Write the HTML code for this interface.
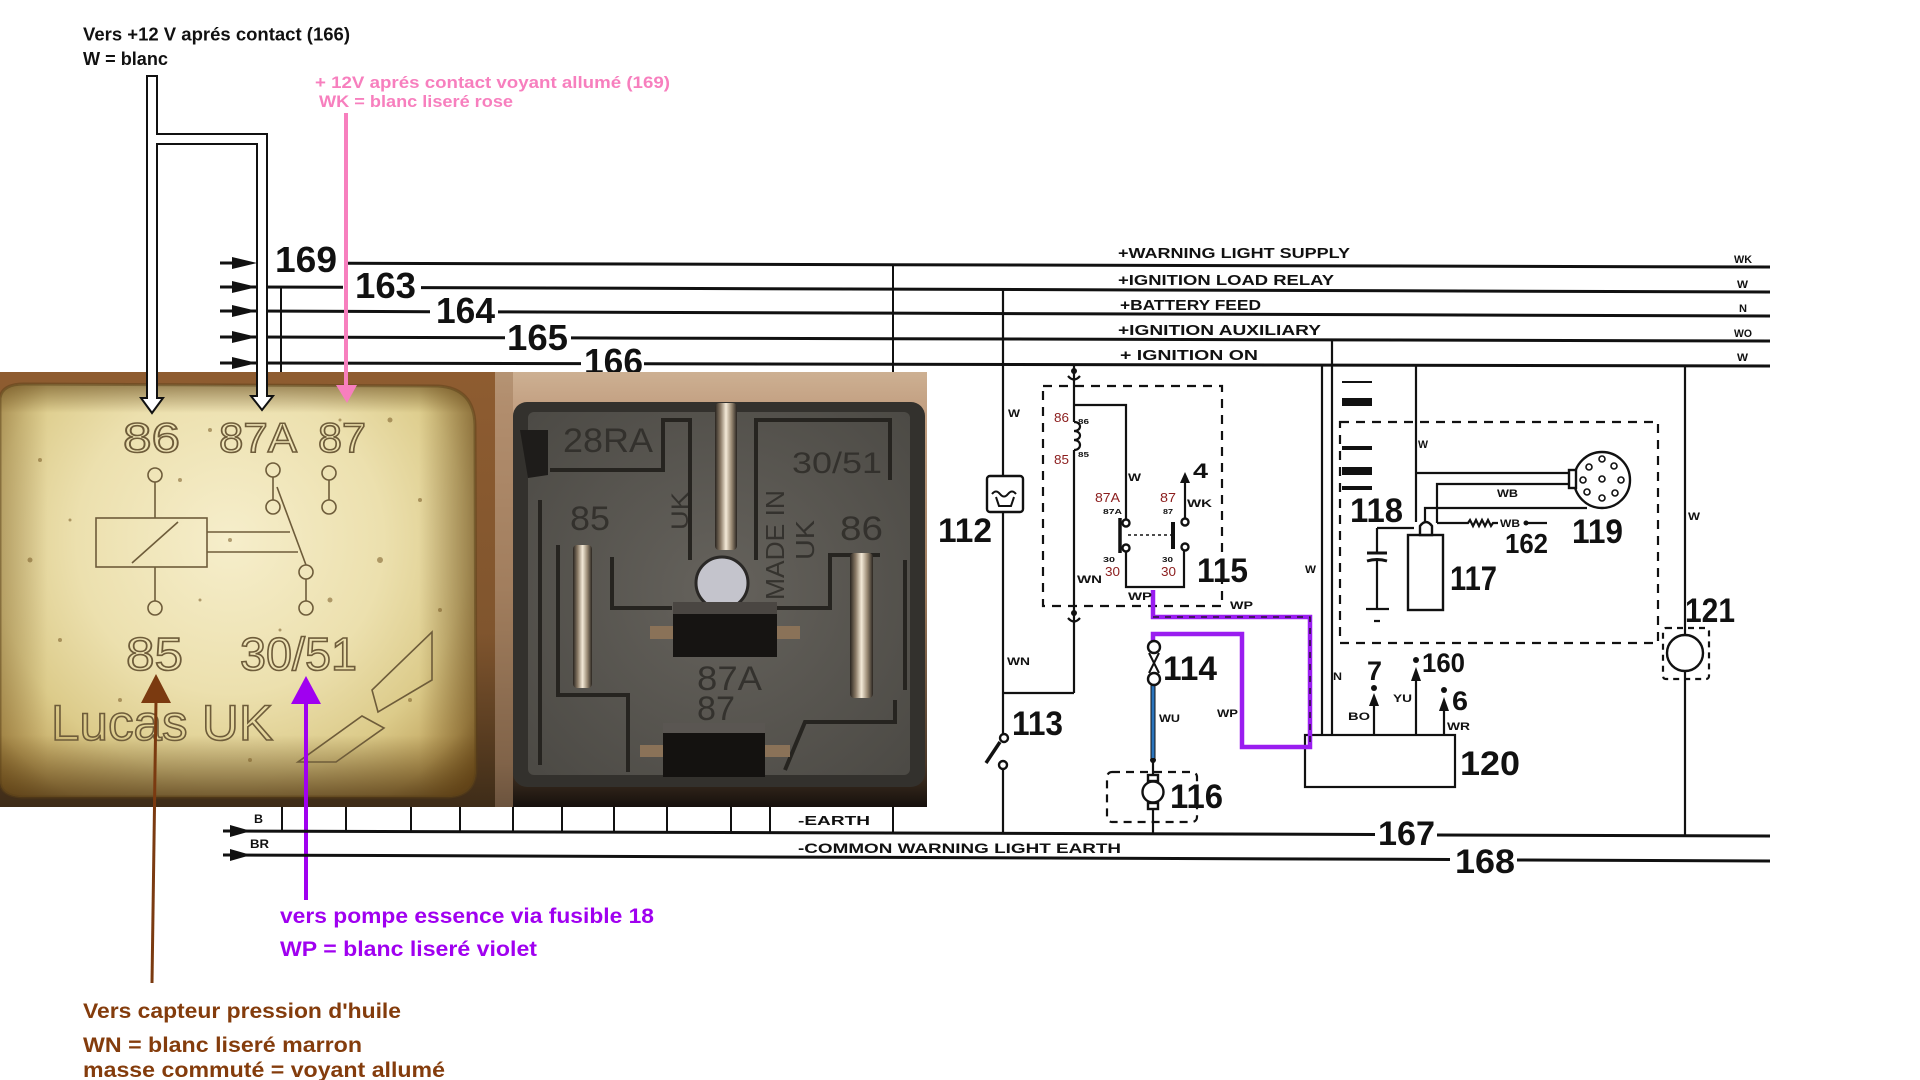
<!DOCTYPE html>
<html><head><meta charset="utf-8">
<style>
html,body{margin:0;padding:0;background:#fff;}
svg{display:block;}
</style></head><body>
<svg width="1920" height="1080" viewBox="0 0 1920 1080" xmlns="http://www.w3.org/2000/svg" font-family="'Liberation Sans', sans-serif">
<defs>
<linearGradient id="p1bg" x1="0" y1="0" x2="0" y2="1">
<stop offset="0" stop-color="#8e5c30"/><stop offset="0.6" stop-color="#80552e"/><stop offset="1" stop-color="#3e2c18"/>
</linearGradient>
<radialGradient id="p1body" cx="230" cy="540" r="340" gradientUnits="userSpaceOnUse">
<stop offset="0" stop-color="#f6eecb"/><stop offset="0.45" stop-color="#ece0ae"/><stop offset="0.7" stop-color="#dccb8a"/><stop offset="0.88" stop-color="#c0a560"/><stop offset="1" stop-color="#8c6c30"/>
</radialGradient>
<linearGradient id="p1shadeV" x1="0" y1="384" x2="0" y2="797" gradientUnits="userSpaceOnUse">
<stop offset="0" stop-color="#5a3c10" stop-opacity="0.55"/><stop offset="0.07" stop-color="#5a3c10" stop-opacity="0"/><stop offset="0.85" stop-color="#5a3c10" stop-opacity="0"/><stop offset="1" stop-color="#4a3010" stop-opacity="0.7"/>
</linearGradient>
<linearGradient id="p1shadeH" x1="0" y1="0" x2="476" y2="0" gradientUnits="userSpaceOnUse">
<stop offset="0" stop-color="#6a4a18" stop-opacity="0.35"/><stop offset="0.1" stop-color="#6a4a18" stop-opacity="0"/><stop offset="0.88" stop-color="#6a4a18" stop-opacity="0"/><stop offset="1" stop-color="#5a3a10" stop-opacity="0.55"/>
</linearGradient>
<linearGradient id="p2bg" x1="0" y1="372" x2="0" y2="807" gradientUnits="userSpaceOnUse">
<stop offset="0" stop-color="#cdb092"/><stop offset="0.07" stop-color="#c4a284"/><stop offset="0.5" stop-color="#9c7a5c"/><stop offset="0.9" stop-color="#4a3828"/><stop offset="1" stop-color="#16100c"/>
</linearGradient>
<radialGradient id="p2face" cx="720" cy="590" r="280" gradientUnits="userSpaceOnUse">
<stop offset="0" stop-color="#65625c"/><stop offset="1" stop-color="#4a4843"/>
</radialGradient>
<linearGradient id="blade" x1="0" y1="0" x2="1" y2="0">
<stop offset="0" stop-color="#2a2520"/><stop offset="0.25" stop-color="#8a7a66"/><stop offset="0.5" stop-color="#f4ead8"/><stop offset="0.75" stop-color="#9a8a74"/><stop offset="1" stop-color="#2a2520"/>
</linearGradient>
</defs>
<rect width="1920" height="1080" fill="#fff"/>

<!-- top annotations -->
<g font-weight="bold">
<text x="83" y="40.5" font-size="18" fill="#111" textLength="267" lengthAdjust="spacingAndGlyphs">Vers +12 V aprés contact (166)</text>
<text x="83" y="65" font-size="18" fill="#111" textLength="85" lengthAdjust="spacingAndGlyphs">W = blanc</text>
<text x="315" y="88" font-size="17" fill="#f77fbe" textLength="355" lengthAdjust="spacingAndGlyphs">+ 12V aprés contact voyant allumé (169)</text>
<text x="319" y="107" font-size="17" fill="#f77fbe" textLength="194" lengthAdjust="spacingAndGlyphs">WK = blanc liseré rose</text>
</g>

<!-- bus lines -->
<g stroke="#111" stroke-width="3" fill="none">
<line x1="348" y1="263.3" x2="1770" y2="267"/>
<line x1="250" y1="287" x2="343" y2="287.3"/><line x1="421" y1="287.6" x2="1770" y2="292"/>
<line x1="250" y1="311" x2="430" y2="311.7"/><line x1="498" y1="311.9" x2="1770" y2="316"/>
<line x1="250" y1="337" x2="505" y2="337.7"/><line x1="571" y1="337.9" x2="1770" y2="341"/>
<line x1="250" y1="363" x2="581" y2="363.6"/><line x1="644" y1="363.8" x2="1770" y2="366"/>
<path d="M220 263H236M220 287H236M220 311H236M220 337H236M220 363H236"/>
</g>
<g fill="#111">
<polygon points="232,257 257,263 232,269"/>
<polygon points="232,281 257,287 232,293"/>
<polygon points="232,305 257,311 232,317"/>
<polygon points="232,331 257,337 232,343"/>
<polygon points="232,357 257,363 232,369"/>
</g>
<g stroke="#111" stroke-width="2" fill="none">
<line x1="281" y1="287" x2="281" y2="372"/>
<line x1="893" y1="264" x2="893" y2="372"/>
</g>
<g font-weight="bold" fill="#111" font-size="36">
<text x="275" y="272" textLength="62" lengthAdjust="spacingAndGlyphs">169</text>
<text x="355" y="298" textLength="61" lengthAdjust="spacingAndGlyphs">163</text>
<text x="436" y="323" textLength="59" lengthAdjust="spacingAndGlyphs">164</text>
<text x="507" y="350" textLength="61" lengthAdjust="spacingAndGlyphs">165</text>
<text x="584" y="374" textLength="59" lengthAdjust="spacingAndGlyphs">166</text>
</g>
<g font-weight="bold" fill="#111" font-size="14.5">
<text x="1118" y="258" textLength="232" lengthAdjust="spacingAndGlyphs">+WARNING LIGHT SUPPLY</text>
<text x="1118" y="285" textLength="216" lengthAdjust="spacingAndGlyphs">+IGNITION LOAD RELAY</text>
<text x="1120" y="310" textLength="141" lengthAdjust="spacingAndGlyphs">+BATTERY FEED</text>
<text x="1118" y="335" textLength="203" lengthAdjust="spacingAndGlyphs">+IGNITION AUXILIARY</text>
<text x="1120" y="360" textLength="138" lengthAdjust="spacingAndGlyphs">+ IGNITION ON</text>
</g>
<g font-weight="bold" fill="#111" font-size="11">
<text x="1734" y="263" textLength="18" lengthAdjust="spacingAndGlyphs">WK</text>
<text x="1737" y="288" textLength="11" lengthAdjust="spacingAndGlyphs">W</text>
<text x="1739" y="312" textLength="8" lengthAdjust="spacingAndGlyphs">N</text>
<text x="1734" y="337" textLength="18" lengthAdjust="spacingAndGlyphs">WO</text>
<text x="1737" y="361" textLength="11" lengthAdjust="spacingAndGlyphs">W</text>
</g>

<!-- PHOTO 1 -->
<rect x="0" y="372" width="495" height="435" fill="url(#p1bg)"/>
<path d="M0 398 Q2 384 24 384 L438 386 Q474 388 475 425 L476 770 Q475 796 448 797 L22 797 Q0 796 0 780 Z" fill="url(#p1body)"/>
<path d="M0 398 Q2 384 24 384 L438 386 Q474 388 475 425 L476 770 Q475 796 448 797 L22 797 Q0 796 0 780 Z" fill="url(#p1shadeV)"/>
<path d="M0 398 Q2 384 24 384 L438 386 Q474 388 475 425 L476 770 Q475 796 448 797 L22 797 Q0 796 0 780 Z" fill="url(#p1shadeH)" stroke="#5a4018" stroke-opacity="0.5" stroke-width="3"/>
<g fill="#7a5c28" opacity="0.55">
<circle cx="40" cy="460" r="2"/><circle cx="70" cy="520" r="1.5"/><circle cx="210" cy="430" r="2"/><circle cx="390" cy="420" r="2.5"/><circle cx="420" cy="500" r="2"/><circle cx="380" cy="560" r="3"/><circle cx="440" cy="610" r="2"/><circle cx="60" cy="640" r="2"/><circle cx="200" cy="600" r="1.5"/><circle cx="330" cy="600" r="2.5"/><circle cx="120" cy="700" r="2"/><circle cx="410" cy="700" r="2"/><circle cx="250" cy="760" r="2"/><circle cx="30" cy="560" r="2.5"/><circle cx="340" cy="420" r="1.5"/><circle cx="180" cy="480" r="2"/><circle cx="230" cy="540" r="2"/><circle cx="280" cy="630" r="1.5"/>
</g>
<g fill="none" stroke="#6e5c3a" stroke-width="1.6">
<text x="123" y="452" font-size="42" textLength="57" lengthAdjust="spacingAndGlyphs">86</text>
<text x="219" y="452" font-size="42" textLength="78" lengthAdjust="spacingAndGlyphs">87A</text>
<text x="318" y="452" font-size="42" textLength="48" lengthAdjust="spacingAndGlyphs">87</text>
<text x="126" y="670" font-size="46" textLength="57" lengthAdjust="spacingAndGlyphs">85</text>
<text x="240" y="670" font-size="46" textLength="117" lengthAdjust="spacingAndGlyphs">30/51</text>
<text x="51" y="740" font-size="50" textLength="222" lengthAdjust="spacingAndGlyphs">Lucas UK</text>
<circle cx="155" cy="475" r="7"/><line x1="155" y1="482" x2="155" y2="518"/>
<rect x="96" y="518" width="111" height="49"/>
<line x1="132" y1="563" x2="178" y2="522"/>
<line x1="155" y1="567" x2="155" y2="601"/><circle cx="155" cy="608" r="7"/>
<path d="M207 532 H290 M207 552 H298"/>
<circle cx="273" cy="470" r="7"/><circle cx="273" cy="507" r="7"/><line x1="273" y1="477" x2="273" y2="500"/>
<circle cx="329" cy="473" r="7"/><circle cx="329" cy="507" r="7"/><line x1="329" y1="480" x2="329" y2="500"/>
<line x1="277" y1="487" x2="306" y2="565"/>
<circle cx="306" cy="572" r="7"/><circle cx="306" cy="608" r="7"/><line x1="306" y1="579" x2="306" y2="601"/>
<path d="M432 632 L432 680 L378 712 L372 690 Z"/>
<path d="M362 716 L384 728 L336 762 L298 762 Z"/>
</g>

<!-- PHOTO 2 -->
<rect x="495" y="372" width="432" height="435" fill="url(#p2bg)"/>
<rect x="495" y="372" width="18" height="435" fill="#a5805f" opacity="0.6"/>
<rect x="513" y="402" width="412" height="385" rx="14" fill="#33312d"/>
<rect x="528" y="412" width="382" height="363" rx="6" fill="url(#p2face)"/>
<path d="M520 430 L548 430 L548 475 L528 478 Z" fill="#1e1c1a"/>
<g fill="none" stroke="#262420" stroke-width="4">
<path d="M550 470 L663 470 L663 420 L690 420 L690 560"/>
<path d="M756 560 L756 420 L890 420 L890 480"/>
<path d="M540 500 L540 765"/>
<path d="M558 545 L558 695 L628 695 L628 772"/>
<path d="M612 557 L612 608 L672 608"/>
<path d="M775 608 L830 608 L830 555 L880 555"/>
<path d="M905 560 L905 690"/>
<path d="M785 770 L805 722 L895 722 L895 700"/>
</g>
<g fill="#2e2c28" font-size="34" opacity="0.85">
<text x="563" y="452" textLength="90" lengthAdjust="spacingAndGlyphs">28RA</text>
<text x="570" y="530" textLength="40" lengthAdjust="spacingAndGlyphs">85</text>
<text x="697" y="690" textLength="65" lengthAdjust="spacingAndGlyphs">87A</text>
<text x="697" y="720" textLength="38" lengthAdjust="spacingAndGlyphs">87</text>
<text x="840" y="540" textLength="43" lengthAdjust="spacingAndGlyphs">86</text>
<text x="792" y="473" font-size="30" textLength="90" lengthAdjust="spacingAndGlyphs">30/51</text>
<text transform="translate(784,600) rotate(-90)" font-size="26" textLength="110" lengthAdjust="spacingAndGlyphs">MADE IN</text>
<text transform="translate(814,560) rotate(-90)" font-size="26" textLength="40" lengthAdjust="spacingAndGlyphs">UK</text>
<text transform="translate(688,530) rotate(-90)" font-size="24" textLength="38" lengthAdjust="spacingAndGlyphs">UK</text>
</g>
<rect x="715" y="403" width="22" height="147" rx="4" fill="url(#blade)"/>
<rect x="573" y="545" width="19" height="143" rx="4" fill="url(#blade)"/>
<rect x="850" y="553" width="23" height="145" rx="4" fill="url(#blade)"/>
<circle cx="722" cy="583" r="26" fill="#c4c4cc" stroke="#2a2826" stroke-width="3"/>
<rect x="650" y="626" width="150" height="13" fill="#8a7258"/>
<rect x="673" y="602" width="104" height="55" fill="#161412"/>
<rect x="673" y="602" width="104" height="12" fill="#4a4642"/>
<rect x="640" y="745" width="150" height="12" fill="#8a7258"/>
<rect x="663" y="723" width="102" height="54" fill="#141210"/>
<rect x="663" y="723" width="102" height="10" fill="#5a5652"/>

<!-- arrows over photos -->
<polygon points="147,76 157,76 157,134 267,134 267,396 273,396 262,410 251,396 257,396 257,144 157,144 157,398 163,398 152,413 141,398 147,398" fill="#fff" stroke="#111" stroke-width="2" stroke-linejoin="miter"/>
<line x1="346" y1="113" x2="346" y2="388" stroke="#f77fbe" stroke-width="4"/>
<polygon points="336,385 357,385 347,403" fill="#f77fbe"/>
<line x1="156" y1="700" x2="152" y2="983" stroke="#7b3a10" stroke-width="3"/>
<polygon points="141,703 171,703 156,674" fill="#7b3a10"/>
<line x1="306" y1="700" x2="306" y2="900" stroke="#a000f0" stroke-width="4"/>
<polygon points="291,704 321,704 306,676" fill="#a000f0"/>

<!-- bottom texts -->
<g font-weight="bold" font-size="21">
<text x="280" y="923" fill="#a000f0" textLength="374" lengthAdjust="spacingAndGlyphs">vers pompe essence via fusible 18</text>
<text x="280" y="956" fill="#a000f0" textLength="257" lengthAdjust="spacingAndGlyphs">WP = blanc liseré violet</text>
<text x="83" y="1018" fill="#843c0c" textLength="318" lengthAdjust="spacingAndGlyphs">Vers capteur pression d'huile</text>
<text x="83" y="1052" fill="#843c0c" textLength="279" lengthAdjust="spacingAndGlyphs">WN = blanc liseré marron</text>
<text x="83" y="1077" fill="#843c0c" textLength="362" lengthAdjust="spacingAndGlyphs">masse commuté = voyant allumé</text>
</g>

<!-- earth lines -->
<g stroke="#111" stroke-width="3" fill="none">
<line x1="232" y1="831" x2="1375" y2="834.5"/><line x1="1437" y1="835" x2="1770" y2="836"/>
<line x1="232" y1="855" x2="1450" y2="859.5"/><line x1="1517" y1="860" x2="1770" y2="861"/>
<path d="M223 831H234M223 855H234"/>
</g>
<polygon points="230,825 251,831 230,837" fill="#111"/>
<polygon points="230,849 251,855 230,861" fill="#111"/>
<g stroke="#111" stroke-width="2">
<path d="M282 807V832M346 807V832M411 807V832M460 807V832M513 807V832M562 807V832M614 807V832M667 807V832M731 807V832M770 807V832M893 807V833"/>
</g>
<g font-weight="bold" fill="#111">
<text x="254" y="823" font-size="12" textLength="9" lengthAdjust="spacingAndGlyphs">B</text>
<text x="250" y="848" font-size="12" textLength="19" lengthAdjust="spacingAndGlyphs">BR</text>
<text x="798" y="825" font-size="13" textLength="72" lengthAdjust="spacingAndGlyphs">-EARTH</text>
<text x="798" y="853" font-size="14" textLength="323" lengthAdjust="spacingAndGlyphs">-COMMON WARNING LIGHT EARTH</text>
<text x="1378" y="845" font-size="34" textLength="57" lengthAdjust="spacingAndGlyphs">167</text>
<text x="1455" y="873" font-size="34" textLength="60" lengthAdjust="spacingAndGlyphs">168</text>
</g>

<!-- right diagram wiring -->
<g stroke="#111" stroke-width="2.2" fill="none">
<line x1="1003" y1="289" x2="1003" y2="734"/>
<line x1="1003" y1="769" x2="1003" y2="834"/>
<line x1="1003" y1="693" x2="1074" y2="693"/>
<path d="M1074 366V422M1074 450V693"/>
<path d="M1074 422c8 0 8 9 0 9c8 0 8 9 0 9c8 0 8 10 0 10"/>
<path d="M1074 405H1126V519"/>
<path d="M1126 551.5V587H1184V550.5"/>
<path d="M1068 376q6 7 12 0M1068 618q6 7 12 0"/>
<line x1="1185" y1="518" x2="1185" y2="480"/>
<line x1="1128" y1="535" x2="1171" y2="535" stroke-dasharray="3 3" stroke-width="1.5"/>
<rect x="1043" y="386" width="179" height="220" stroke-dasharray="9 7"/>
<line x1="1322" y1="365" x2="1322" y2="735"/>
<line x1="1332" y1="340" x2="1332" y2="735"/>
<line x1="1416" y1="365" x2="1416" y2="522"/>
<line x1="1685" y1="366" x2="1685" y2="635"/>
<line x1="1685" y1="671" x2="1685" y2="835"/>
<line x1="1153" y1="808" x2="1153" y2="834"/>
<line x1="1153" y1="762" x2="1153" y2="776"/>
<rect x="1340" y="422" width="318" height="221" stroke-dasharray="9 7"/>
<rect x="1107" y="772" width="90" height="50" rx="5" stroke-dasharray="8 6"/>
<rect x="1663" y="628" width="46" height="51" rx="3" stroke-dasharray="6 5"/>
<path d="M1416 473H1570"/>
<path d="M1437 523V484H1570"/>
<path d="M1425 521V508H1587"/>
<path d="M1602 479L1590 505"/>
<path d="M1437 523H1468l2 -3l3 6l3 -6l3 6l3 -6l3 6l3 -6l3 6l2 -3H1498"/>
<path d="M1524 523H1547"/>
<path d="M1377 528H1414M1377 528V553M1377 560V609M1374 621H1380"/>
<path d="M1366 609H1389"/>
<path d="M1374 705V735M1416 680V735M1444 710V735"/>
<rect x="1305" y="735" width="150" height="52"/>
</g>
<g stroke="#111" stroke-width="3" fill="none">
<line x1="1367" y1="553" x2="1387" y2="553"/>
<path d="M1367 561q10 -3 20 0"/>
<line x1="1120" y1="518" x2="1120" y2="553" stroke-width="3.5"/>
<line x1="1173" y1="522" x2="1173" y2="549" stroke-width="4"/>
<line x1="1000" y1="742" x2="986" y2="763" stroke-width="3.5"/>
</g>
<circle cx="1526" cy="523" r="2.5" fill="#111"/>
<!-- 118 bars -->
<g fill="#111">
<rect x="1342" y="381" width="30" height="2"/>
<rect x="1342" y="398" width="30" height="8"/>
<rect x="1342" y="446" width="30" height="4"/>
<rect x="1342" y="467" width="30" height="8"/>
<rect x="1342" y="486" width="30" height="4"/>
<circle cx="1074" cy="371" r="3"/>
<circle cx="1074" cy="613" r="3"/>
<polygon points="1180,483 1190,483 1185,472"/>
<circle cx="1153" cy="760" r="3"/>
<circle cx="1374" cy="688" r="3"/><polygon points="1369,706 1379,706 1374,693"/>
<circle cx="1416" cy="660" r="3"/><polygon points="1411,681 1421,681 1416,667"/>
<circle cx="1444" cy="690" r="3"/><polygon points="1439,711 1449,711 1444,697"/>
</g>
<!-- purple / blue wires -->
<path d="M1153 590V617H1310V747H1242V634H1153V643" fill="none" stroke="#9a1df0" stroke-width="4.5"/>
<path d="M1153 617H1310V747" fill="none" stroke="#111" stroke-width="1.3" stroke-dasharray="6 6"/>
<line x1="1153" y1="685" x2="1153" y2="758" stroke="#111" stroke-width="5"/>
<line x1="1153" y1="685" x2="1153" y2="758" stroke="#2a74bc" stroke-width="3"/>
<!-- components -->
<g stroke="#111" stroke-width="2.4" fill="#fff">
<circle cx="1126" cy="523" r="3.5"/><circle cx="1126" cy="548" r="3.5"/>
<circle cx="1185" cy="522" r="3.5"/><circle cx="1185" cy="547" r="3.5"/>
<rect x="987" y="476" width="36" height="36" rx="3"/>
<circle cx="1004" cy="738" r="4"/><circle cx="1003" cy="765" r="4"/>
<circle cx="1154" cy="647" r="6"/><circle cx="1154" cy="679" r="6"/>
<rect x="1148" y="775" width="10" height="6"/>
<circle cx="1153" cy="792" r="10.5"/>
<rect x="1148" y="803" width="10" height="6"/>
<circle cx="1602" cy="480" r="28"/>
<rect x="1569" y="470" width="7" height="18"/>
<rect x="1408" y="535" width="35" height="75"/>
<path d="M1420 535V526q6 -8 12 0V535Z"/>
<circle cx="1685" cy="653" r="18"/>
</g>
<g stroke="#111" stroke-width="2" fill="none">
<path d="M1149 653L1159 673M1159 653L1149 673"/>
<path d="M992 494q4 -5 8 0q4 5 8 0q4 -5 8 0"/>
<path d="M996 497L999 506L1011 506L1014 497"/>
</g>
<g stroke="#111" stroke-width="1.6" fill="#fff">
<circle cx="1589" cy="467" r="3"/><circle cx="1602" cy="459" r="3"/><circle cx="1614" cy="466" r="3"/>
<circle cx="1583" cy="480" r="3"/><circle cx="1602" cy="479" r="3"/><circle cx="1621" cy="480" r="3"/>
<circle cx="1587" cy="492" r="3"/><circle cx="1602" cy="498" r="3"/><circle cx="1615" cy="493" r="3"/>
</g>
<!-- big numbers -->
<g font-weight="bold" fill="#111" font-size="34">
<text x="938" y="542" textLength="54" lengthAdjust="spacingAndGlyphs">112</text>
<text x="1012" y="735" textLength="51" lengthAdjust="spacingAndGlyphs">113</text>
<text x="1163" y="680" textLength="54" lengthAdjust="spacingAndGlyphs">114</text>
<text x="1197" y="582" textLength="51" lengthAdjust="spacingAndGlyphs">115</text>
<text x="1170" y="808" textLength="53" lengthAdjust="spacingAndGlyphs">116</text>
<text x="1350" y="522" textLength="53" lengthAdjust="spacingAndGlyphs">118</text>
<text x="1450" y="590" textLength="47" lengthAdjust="spacingAndGlyphs">117</text>
<text x="1572" y="543" textLength="51" lengthAdjust="spacingAndGlyphs">119</text>
<text x="1685" y="622" textLength="50" lengthAdjust="spacingAndGlyphs">121</text>
<text x="1460" y="775" textLength="60" lengthAdjust="spacingAndGlyphs">120</text>
<text x="1193" y="478" font-size="21" textLength="15" lengthAdjust="spacingAndGlyphs">4</text>
<text x="1505" y="553" font-size="28" textLength="43" lengthAdjust="spacingAndGlyphs">162</text>
<text x="1367" y="680" font-size="27" textLength="15" lengthAdjust="spacingAndGlyphs">7</text>
<text x="1422" y="672" font-size="27" textLength="43" lengthAdjust="spacingAndGlyphs">160</text>
<text x="1452" y="710" font-size="27" textLength="16" lengthAdjust="spacingAndGlyphs">6</text>
</g>
<!-- small wire labels -->
<g font-weight="bold" fill="#111" font-size="11">
<text x="1008" y="417" textLength="12" lengthAdjust="spacingAndGlyphs">W</text>
<text x="1007" y="665" textLength="23" lengthAdjust="spacingAndGlyphs">WN</text>
<text x="1128" y="481" textLength="13" lengthAdjust="spacingAndGlyphs">W</text>
<text x="1187" y="507" textLength="25" lengthAdjust="spacingAndGlyphs">WK</text>
<text x="1077" y="583" textLength="25" lengthAdjust="spacingAndGlyphs">WN</text>
<text x="1128" y="600" textLength="24" lengthAdjust="spacingAndGlyphs">WP</text>
<text x="1230" y="609" textLength="23" lengthAdjust="spacingAndGlyphs">WP</text>
<text x="1217" y="717" textLength="21" lengthAdjust="spacingAndGlyphs">WP</text>
<text x="1159" y="722" textLength="21" lengthAdjust="spacingAndGlyphs">WU</text>
<text x="1305" y="573" textLength="11" lengthAdjust="spacingAndGlyphs">W</text>
<text x="1333" y="680" textLength="9" lengthAdjust="spacingAndGlyphs">N</text>
<text x="1418" y="448" textLength="10" lengthAdjust="spacingAndGlyphs">W</text>
<text x="1497" y="497" textLength="21" lengthAdjust="spacingAndGlyphs">WB</text>
<text x="1500" y="527" textLength="20" lengthAdjust="spacingAndGlyphs">WB</text>
<text x="1688" y="520" textLength="12" lengthAdjust="spacingAndGlyphs">W</text>
<text x="1348" y="720" textLength="22" lengthAdjust="spacingAndGlyphs">BO</text>
<text x="1393" y="702" textLength="19" lengthAdjust="spacingAndGlyphs">YU</text>
<text x="1447" y="730" textLength="23" lengthAdjust="spacingAndGlyphs">WR</text>
</g>
<g font-weight="bold" fill="#111" font-size="7">
<text x="1078" y="424" textLength="11" lengthAdjust="spacingAndGlyphs">86</text>
<text x="1078" y="457" textLength="11" lengthAdjust="spacingAndGlyphs">85</text>
<text x="1103" y="514" textLength="19" lengthAdjust="spacingAndGlyphs">87A</text>
<text x="1163" y="514" textLength="10" lengthAdjust="spacingAndGlyphs">87</text>
<text x="1103" y="562" textLength="12" lengthAdjust="spacingAndGlyphs">30</text>
<text x="1162" y="562" textLength="11" lengthAdjust="spacingAndGlyphs">30</text>
</g>
<g fill="#8b1c1c" font-size="13">
<text x="1054" y="422" textLength="15" lengthAdjust="spacingAndGlyphs">86</text>
<text x="1054" y="464" textLength="15" lengthAdjust="spacingAndGlyphs">85</text>
<text x="1095" y="502" textLength="25" lengthAdjust="spacingAndGlyphs">87A</text>
<text x="1160" y="502" textLength="16" lengthAdjust="spacingAndGlyphs">87</text>
<text x="1105" y="576" textLength="15" lengthAdjust="spacingAndGlyphs">30</text>
<text x="1161" y="576" textLength="15" lengthAdjust="spacingAndGlyphs">30</text>
</g>
</svg>
</body></html>
